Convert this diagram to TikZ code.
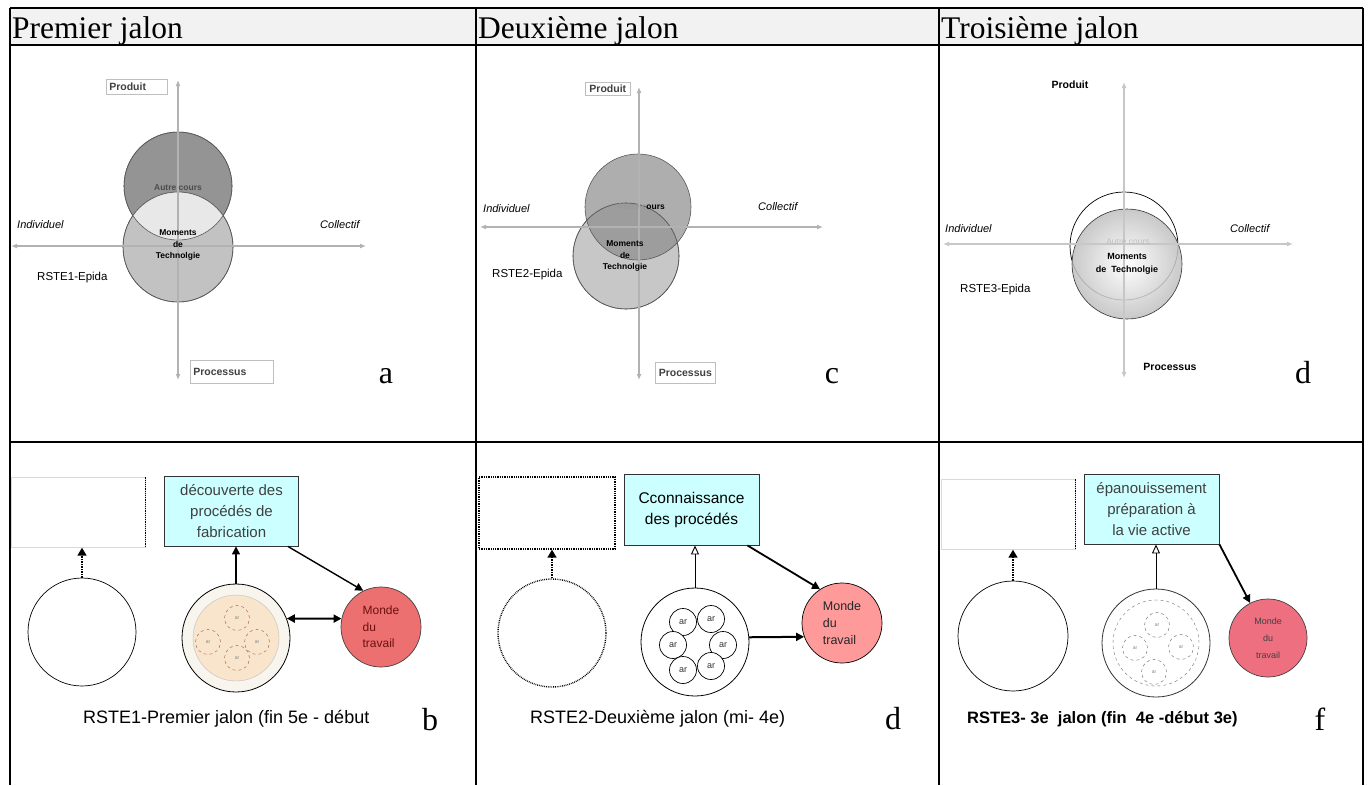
\documentclass[tikz,border=0pt]{standalone}
\usepackage{fontspec}
\setmainfont{Liberation Sans}
\newfontfamily\jalonserif{Liberation Serif}
\usetikzlibrary{arrows.meta,positioning,calc}
\definecolor{bleujalon}{HTML}{CCFFFF}
\definecolor{mondeun}{HTML}{EC7070}
\definecolor{mondedeux}{HTML}{FF9A9A}
\definecolor{mondetrois}{HTML}{EE6F80}
\definecolor{peche}{HTML}{F9E4CC}
\definecolor{creme}{HTML}{F8F4EE}
\definecolor{brique}{HTML}{6B1010}

\begin{document}
\begin{tikzpicture}[
  x=1pt, y=-1pt,
  trait/.style={line width=1.8pt, black},
  axe/.style={{Latex[length=6pt,width=5pt]}-{Latex[length=6pt,width=5pt]}, line width=2.4pt, black!30},
  titre/.style={font=\jalonserif\fontsize{31.5}{34}\selectfont, anchor=base west, inner sep=0pt},
  lettre/.style={font=\jalonserif\fontsize{32}{34}\selectfont, anchor=base, inner sep=0pt},
  pole/.style={font=\bfseries\fontsize{10.5}{12}\selectfont, text=black!75, inner sep=0pt},
  etiquette/.style={pole, draw=black!25, line width=0.6pt, fill=white, anchor=north west, inner xsep=3pt, align=left},
  sens/.style={font=\itshape\fontsize{11}{12}\selectfont, anchor=west, inner sep=0pt},
  epida/.style={font=\fontsize{11.5}{13}\selectfont, anchor=west, inner sep=0pt},
  moment/.style={font=\bfseries\fontsize{8.5}{11.5}\selectfont, align=center, inner sep=0pt},
  zone/.style={circle, inner sep=0pt, draw=black!65, line width=0.6pt},
  vide/.style={rectangle, minimum width=134pt, minimum height=70pt, inner sep=0pt},
  but/.style={rectangle, draw=black!80, line width=0.9pt, fill=bleujalon, minimum width=134pt, minimum height=70pt, align=center, font=\fontsize{15}{21}\selectfont},
  classe/.style={circle, draw=black, line width=0.8pt, minimum size=108pt, inner sep=0pt},
  groupe/.style={circle, draw=black!60, dashed, minimum size=25pt, inner sep=0pt, font=\fontsize{5}{5}\selectfont, text=black!50},
  monde/.style={circle, draw=black!75, line width=0.7pt, minimum size=80pt, inner sep=1pt, align=left},
  legende/.style={font=\fontsize{18}{20}\selectfont, anchor=base west, inner sep=0pt},
  fleche/.style={-{Triangle[length=8pt,width=8pt]}, line width=1.4pt},
  ouverte/.style={-{Triangle[open,length=9pt,width=8pt]}, line width=0.9pt},
  pointille/.style={-{Triangle[length=8pt,width=9pt]}, line width=1.5pt, densely dotted},
  lien/.style={{Triangle[length=8pt,width=8pt]}-{Triangle[length=8pt,width=8pt]}, line width=2pt}]

\useasboundingbox (0,0) rectangle (1370,785);

% ---- the table ----------------------------------------------------------
\fill[black!5] (10,8) rectangle (1363,45);
\draw[trait] (10,8) -- (1363,8) (10,45) -- (1363,45) (10,442) -- (1363,442);
\foreach \xx in {10,476,939,1363}
  \draw[trait] (\xx,8) -- (\xx,785);
\node[titre] (tUn)    at (12,38)  {Premier jalon};
\node[titre] (tDeux)  at (478,38) {Deuxième jalon};
\node[titre] (tTrois) at (941,38) {Troisième jalon};

% ---- a : RSTE1-Epida ----------------------------------------------------
\node[zone, minimum size=108pt, fill=black!42] (aHaut) at (178,186) {};
\node[zone, minimum size=110pt, fill=black!24] (aBas)  at (178,247) {};
\begin{scope}
  \clip (aHaut.center) circle (54);
  \fill[black!9] (aBas.center) circle (55);
\end{scope}
\draw[black!65, line width=0.6pt] (aHaut.center) circle (54) (aBas.center) circle (55);
\coordinate (aW) at (11,246);  \coordinate (aE) at (366,246);
\coordinate (aN) at (178,80);  \coordinate (aS) at (178,380);
\draw[axe] (aW) -- (aE);
\draw[axe] (aN) -- (aS);
\node[etiquette, text width=55pt, minimum height=15pt] (aProduit) at (106,79) {Produit};
\node[etiquette, text width=77pt, minimum height=23pt] (aProcessus) at (190,360) {Processus};
\node[moment, text=black!70] (aAutre) at (178,188) {Autre cours};
\node[moment] (aMoment) at (178,245) {Moments\\de\\Technolgie};
\node[sens] (aIndiv) at (17,225)  {Individuel};
\node[sens] (aColl)  at (320,225) {Collectif};
\node[epida] (aEpida) at (37,278) {RSTE1-Epida};
\node[lettre] (la) at (386,383) {a};

% ---- c : RSTE2-Epida ----------------------------------------------------
\node[zone, minimum size=106pt, fill=black!22] (cBas) at (626,256) {};
\node[zone, minimum size=106pt, fill=black!45, fill opacity=0.7] (cHaut) at (638,207) {};
\draw[black!65, line width=0.6pt] (cBas.center) circle (53);
\coordinate (cW) at (480,227); \coordinate (cE) at (823,227);
\coordinate (cN) at (639,87);  \coordinate (cS) at (639,380);
\draw[axe] (cW) -- (cE);
\draw[axe] (cN) -- (cS);
\node[etiquette, text width=39pt, minimum height=13pt, align=center] (cProduit) at (585,82) {Produit};
\node[etiquette, text width=54pt, minimum height=21pt, align=center] (cProcessus) at (655,362) {Processus};
\node[moment] (cAutre) at (641,207) {\textcolor{black!40}{Autre c}ours};
\node[moment] (cMoment) at (625,256) {Moments\\de\\Technolgie};
\node[sens] (cIndiv) at (483,209) {Individuel};
\node[sens] (cColl)  at (758,207) {Collectif};
\node[epida] (cEpida) at (492,275) {RSTE2-Epida};
\node[lettre] (lc) at (832,383) {c};

% ---- d : RSTE3-Epida ----------------------------------------------------
\node[zone, minimum size=108pt, draw=black, line width=0.7pt] (dVide) at (1124,246) {};
\coordinate (dC) at (1127,264);
\shade[inner color=white, outer color=black!25, fill opacity=0.85] (dC) circle (55);
\node[zone, minimum size=110pt, draw=black!80] (dPlein) at (dC) {};
\coordinate (dW) at (943,244);  \coordinate (dE) at (1293,244);
\coordinate (dN) at (1124,82);  \coordinate (dS) at (1124,378);
\draw[axe, black!22] (dW) -- (dE);
\draw[axe, black!22] (dN) -- (dS);
\node[pole, text=black] (dProduit) at (1070,85) {Produit};
\node[pole, text=black] (dProcessus) at (1170,367) {Processus};
\node[moment, font=\fontsize{8.5}{11}\selectfont, text=black!25] (dAutre) at (1128,242) {Autre cours};
\node[moment, font=\bfseries\fontsize{9}{13}\selectfont] (dMoment) at (1127,264) {Moments\\de~ Technolgie};
\node[sens] (dIndiv) at (945,229)  {Individuel};
\node[sens] (dColl)  at (1230,229) {Collectif};
\node[epida] (dEpida) at (960,290) {RSTE3-Epida};
\node[lettre] (ld) at (1303,383) {d};

% ---- b : premier jalon --------------------------------------------------
\node[vide, draw=black!15] (vide1) at (78,512.5) {};
\draw[densely dotted, line width=1.2pt] (vide1.north east) -- (vide1.south east);
\node[classe, line width=0.7pt] (rond1) at (82,632) {};
\node[but, text=black!75] (but1) at (231.5,511) {découverte des\\procédés de\\fabrication};
\node[classe, fill=creme] (mid1) at (236,638) {};
\node[circle, minimum size=86pt, fill=peche, draw=black!25, inner sep=0pt] (noyau1) at (mid1) {};
\foreach \gx/\gy [count=\k] in {237/618, 208/642, 257/642, 237/658}
  \node[groupe, draw=brique!70] (g1\k) at (\gx,\gy) {ar};
\node[monde, fill=mondeun, font=\fontsize{12}{16.5}\selectfont, text=brique] (monde1) at (381,627) {Monde\\du\\travail};
\draw[pointille] (rond1.north) -- (rond1.north |- vide1.south);
\draw[fleche] (mid1.north) -- (mid1.north |- but1.south);
\draw[fleche] ([xshift=-11pt]but1.south east) -- (monde1.116);
\draw[lien] (mid1.21) -- (monde1.168);
\node[legende] (cap1) at (83,723) {RSTE1-Premier jalon (fin 5e - début};
\node[lettre] (lb) at (430,730) {b};

% ---- d : deuxième jalon -------------------------------------------------
\node[vide, draw=black, densely dotted, line width=1.3pt, minimum width=136pt, minimum height=72pt] (vide2) at (547,513) {};
\node[classe, densely dotted, line width=1.4pt] (rond2) at (552,633) {};
\node[but, font=\fontsize{15.5}{21}\selectfont, minimum width=135pt, minimum height=71pt] (but2) at (691.5,509.5) {Cconnaissance\\des procédés};
\node[classe, fill=white] (mid2) at (695,642) {};
\foreach \gx/\gy [count=\k] in {683/622, 711/619, 673/645, 723/645, 683/670, 711/666}
  \node[groupe, solid, draw=black, line width=0.7pt, minimum size=27pt, font=\fontsize{9}{9}\selectfont, text=black!80, fill=white] (g2\k) at (\gx,\gy) {ar};
\node[monde, fill=mondedeux, draw=black, font=\fontsize{12.5}{17}\selectfont, text=black!85] (monde2) at (842,623) {Monde\\du\\travail};
\draw[pointille] (rond2.north) -- (rond2.north |- vide2.south);
\draw[ouverte] (mid2.north) -- (mid2.north |- but2.south);
\draw[fleche, line width=1.8pt] ([xshift=-12pt]but2.south east) -- (monde2.123);
\draw[fleche, line width=2pt] (mid2.5) -- (monde2.200);
\node[legende] (cap2) at (530,723) {RSTE2-Deuxième jalon (mi- 4e)};
\node[lettre] (ld2) at (893,729) {d};

% ---- f : troisième jalon ------------------------------------------------
\node[vide, draw=black!15] (vide3) at (1008,514.5) {};
\draw[densely dotted, line width=1.2pt] (vide3.north east) -- (vide3.south east);
\node[classe, minimum size=110pt, line width=0.7pt] (rond3) at (1013,636) {};
\node[but, text=black!75, minimum width=135pt] (but3) at (1151.5,509) {épanouissement\\préparation à\\la vie active};
\node[classe, fill=white, draw=black!80] (mid3) at (1156,643) {};
\node[circle, minimum size=86pt, draw=black!55, dashed, inner sep=0pt] (noyau3) at (mid3) {};
\foreach \gx/\gy [count=\k] in {1157/625, 1135/648, 1181/647, 1154/672}
  \node[groupe] (g3\k) at (\gx,\gy) {ar};
\node[monde, fill=mondetrois, minimum size=78pt, align=center, font=\fontsize{9}{17}\selectfont, text=black!75] (monde3) at (1268,638) {Monde\\du\\travail};
\draw[pointille] (rond3.north) -- (rond3.north |- vide3.south);
\draw[ouverte] (mid3.north) -- (mid3.north |- but3.south);
\draw[fleche, line width=1.8pt] (but3.south east) -- (monde3.117);
\node[legende, font=\bfseries\fontsize{16.5}{20}\selectfont] (cap3) at (967,723) {RSTE3- 3e~ jalon (fin~ 4e -début 3e)};
\node[lettre] (lf) at (1320,730) {f};

\end{tikzpicture}
\end{document}
